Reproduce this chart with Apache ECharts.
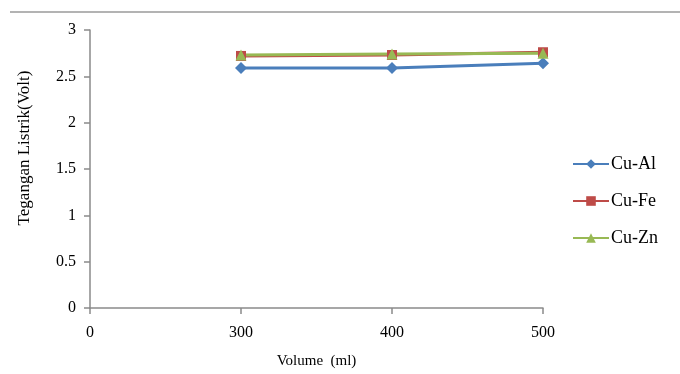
<!DOCTYPE html>
<html><head><meta charset="utf-8">
<script src="https://cdn.jsdelivr.net/npm/echarts@6/dist/echarts.min.js"></script>
<style>html,body{margin:0;padding:0;background:#fff}#c{width:680px;height:374px}</style>
</head><body><div id="c"></div>
<script>
const categories = ["0", "300", "400", "500"];
const cuAl = ["-", 2.59, 2.59, 2.64];
const cuFe = ["-", 2.72, 2.73, 2.76];
const cuZn = ["-", 2.73, 2.74, 2.75];
const yTicks = [0, 0.5, 1, 1.5, 2, 2.5, 3];

const chart = echarts.init(document.getElementById('c'), null, {renderer: 'canvas'});
const font = "'Liberation Serif', 'Times New Roman', serif";
chart.setOption({
  animation: false,
  backgroundColor: '#fff',
  textStyle: {fontFamily: font},
  graphic: [
    {type: 'line', shape: {x1: 10, y1: 12, x2: 680, y2: 12}, style: {stroke: '#9a9a9a', lineWidth: 1.5}},
    {type: 'text', x: 25, y: 148, rotation: Math.PI / 2,
     style: {text: 'Tegangan Listrik(Volt)', font: "17px 'Liberation Serif', serif", fill: '#000', align: 'center', verticalAlign: 'middle'}}
  ],
  grid: {left: 90, right: 137, top: 30, bottom: 65},
  legend: {
    orient: 'vertical', left: 567, top: 150, itemGap: 19, itemWidth: 36, itemHeight: 12,
    textStyle: {fontFamily: font, fontSize: 18, color: '#000', padding: [0, 0, 0, -3]},
    data: ['Cu-Al', 'Cu-Fe', 'Cu-Zn']
  },
  xAxis: {
    type: 'category', data: categories, boundaryGap: false,
    name: 'Volume  (ml)', nameLocation: 'middle', nameGap: 46,
    nameTextStyle: {fontFamily: font, fontSize: 15, color: '#000'},
    axisLine: {lineStyle: {color: '#8a8a8a', width: 1.5}},
    axisTick: {length: 6, lineStyle: {color: '#8a8a8a', width: 1.5}},
    axisLabel: {fontFamily: font, fontSize: 16, color: '#000', margin: 17}
  },
  yAxis: {
    type: 'value', min: yTicks[0], max: yTicks[yTicks.length-1], interval: 0.5,
    axisLine: {show: true, lineStyle: {color: '#8a8a8a', width: 1.5}},
    axisTick: {show: true, length: 6, lineStyle: {color: '#8a8a8a', width: 1.5}},
    splitLine: {show: false},
    axisLabel: {fontFamily: font, fontSize: 16, color: '#000', margin: 14}
  },
  series: [
    {name: 'Cu-Al', type: 'line', data: cuAl, symbol: 'diamond', symbolSize: 12,
     itemStyle: {color: '#4A7EBB'}, lineStyle: {width: 3, color: '#4A7EBB'}},
    {name: 'Cu-Fe', type: 'line', data: cuFe, symbol: 'rect', symbolSize: 10,
     itemStyle: {color: '#BE4B48'}, lineStyle: {width: 3, color: '#BE4B48'}},
    {name: 'Cu-Zn', type: 'line', data: cuZn, symbol: 'triangle', symbolSize: 11,
     itemStyle: {color: '#98B954'}, lineStyle: {width: 3, color: '#98B954'}}
  ]
});
</script></body></html>
